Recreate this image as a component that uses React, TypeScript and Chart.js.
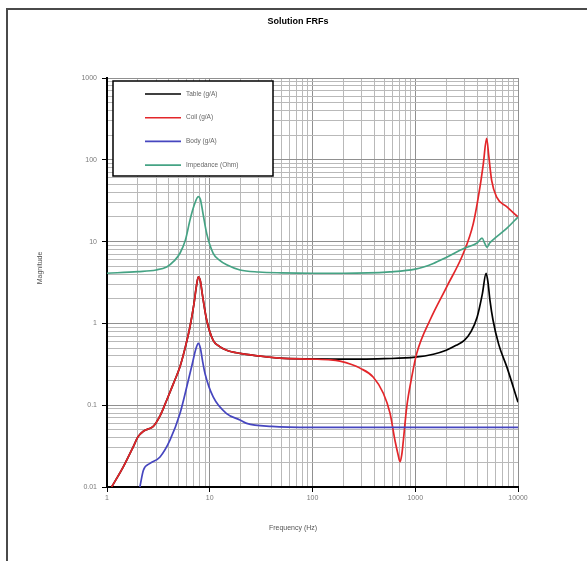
import React, { useEffect, useRef } from "react";
import { Chart, registerables } from "chart.js";

Chart.register(...registerables);

// ---- axis structure ----
const X_MAJOR = [1, 10, 100, 1000, 10000];
const X_LABELS = ["1", "10", "100", "1000", "10000"];
const Y_MAJOR = [0.01, 0.1, 1, 10, 100, 1000];
const Y_LABELS = ["0.01", "0.1", "1", "10", "100", "1000"];
const MINOR_STEPS = [2, 3, 4, 5, 6, 7, 8, 9];

const CHART_TITLE = "Solution FRFs";
const X_TITLE = "Frequency (Hz)";
const Y_TITLE = "Magnitude";
const SERIES_NAMES = ["Table (g/A)", "Coil (g/A)", "Body (g/A)", "Impedance (Ohm)"];
const SERIES_COLORS = ["#000000", "#e3262a", "#4646bf", "#45a384"];

// ---- series ----
const COIL_FREQ = [1.11, 1.44, 1.8, 2.0, 2.26, 2.5, 2.82, 3.3, 3.81, 4.4, 5.13, 5.8, 6.42, 7.0, 7.4, 7.74, 8.1, 8.5, 9.33, 10.8, 12.5, 14.6, 19.7, 30, 48, 100, 150, 185, 240, 290, 391, 489, 568, 635, 680, 711, 740, 766, 826, 924, 1034, 1393, 2024, 2940, 3675, 4270, 4600, 4950, 5200, 5540, 6200, 7760, 10000];
const COIL_VAL = [0.01, 0.0176, 0.031, 0.041, 0.048, 0.051, 0.055, 0.075, 0.115, 0.18, 0.295, 0.52, 0.91, 1.7, 2.8, 3.7, 3.3, 2.2, 1.1, 0.62, 0.52, 0.47, 0.43, 0.4, 0.376, 0.366, 0.358, 0.345, 0.315, 0.284, 0.22, 0.14, 0.08, 0.037, 0.025, 0.0203, 0.025, 0.037, 0.095, 0.22, 0.43, 1.1, 2.8, 7.2, 16.7, 46.9, 90, 183, 110, 56, 35, 26.7, 20];

const TABLE_FREQ = [1.11, 1.44, 1.8, 2.0, 2.26, 2.5, 2.82, 3.3, 3.81, 4.4, 5.13, 5.8, 6.42, 7.0, 7.4, 7.74, 8.1, 8.5, 9.33, 10.8, 12.5, 14.6, 19.7, 30, 48, 100, 185, 300, 500, 1000, 1500, 2000, 2500, 3000, 3500, 4000, 4500, 4890, 5100, 5340, 5710, 6500, 7810, 10000];
const TABLE_VAL = [0.01, 0.0176, 0.031, 0.041, 0.048, 0.051, 0.055, 0.075, 0.115, 0.18, 0.295, 0.52, 0.91, 1.7, 2.8, 3.7, 3.3, 2.2, 1.1, 0.62, 0.52, 0.47, 0.43, 0.4, 0.376, 0.368, 0.366, 0.365, 0.37, 0.386, 0.42, 0.47, 0.54, 0.62, 0.8, 1.19, 2.3, 4.1, 3.2, 1.9, 1.1, 0.55, 0.29, 0.109];

const BODY_FREQ = [2.09, 2.26, 2.62, 3.28, 4.1, 5.13, 6.18, 6.8, 7.3, 7.74, 8.1, 8.5, 8.99, 10.8, 14.6, 19.7, 22.9, 40, 100, 1000, 10000];
const BODY_VAL = [0.01, 0.016, 0.0194, 0.0233, 0.0374, 0.079, 0.2, 0.33, 0.48, 0.57, 0.5, 0.35, 0.244, 0.126, 0.079, 0.066, 0.06, 0.055, 0.0535, 0.0535, 0.0535];

const IMP_FREQ = [1, 2, 3, 3.81, 4.5, 5.13, 5.8, 6.42, 7.0, 7.74, 8.1, 8.6, 9.33, 10.8, 12.5, 14.6, 19.7, 30, 50, 100, 200, 568, 1000, 1500, 2000, 3000, 4000, 4470, 4750, 4990, 5300, 5710, 7810, 10000];
const IMP_VAL = [4.1, 4.3, 4.5, 4.9, 5.8, 7.2, 10.5, 18.3, 27, 35.5, 33, 22, 12.6, 7.2, 5.9, 5.2, 4.5, 4.25, 4.15, 4.1, 4.1, 4.27, 4.6, 5.4, 6.4, 8.3, 9.6, 11, 9.5, 8.5, 9.6, 10.5, 14.6, 20];

const isMajor = (v: number) => {
  const l = Math.log10(v);
  return Math.abs(l - Math.round(l)) < 1e-6;
};

const buildTicks = (majors: number[]) => {
  const out: number[] = [];
  majors.forEach((m, i) => {
    out.push(m);
    if (i < majors.length - 1) MINOR_STEPS.forEach((s) => out.push(+(m * s).toPrecision(6)));
  });
  return out;
};

const labelFor = (v: number, majors: number[], labels: string[]) => {
  for (let i = 0; i < majors.length; i++) {
    if (Math.abs(v - majors[i]) / majors[i] < 1e-6) return labels[i];
  }
  return "";
};

const toPoints = (fs: number[], vs: number[]) => fs.map((f, i) => ({ x: f, y: vs[i] }));

const overlay = {
  id: "overlay",
  afterDraw(chart: any) {
    const ctx = chart.ctx;
    const ca = chart.chartArea;
    ctx.save();
    // outer frame (top + left)
    ctx.strokeStyle = "#4a4a4a";
    ctx.lineWidth = 2;
    ctx.beginPath();
    ctx.moveTo(7, 561);
    ctx.lineTo(7, 9);
    ctx.lineTo(587, 9);
    ctx.stroke();

    // title
    ctx.fillStyle = "#000";
    ctx.font = 'bold 9px "Liberation Sans", Arial, sans-serif';
    ctx.textAlign = "center";
    ctx.textBaseline = "middle";
    ctx.fillText(CHART_TITLE, 298, 22);

    // axis titles
    ctx.fillStyle = "#555";
    ctx.font = '7px "Liberation Sans", Arial, sans-serif';
    ctx.fillText(X_TITLE, 293, 528);
    ctx.save();
    ctx.translate(40, 268);
    ctx.rotate(-Math.PI / 2);
    ctx.fillText(Y_TITLE, 0, 0);
    ctx.restore();

    // legend box
    const bx = ca.left + 6;
    const by = ca.top + 3;
    const bw = 160;
    const bh = 95;
    ctx.fillStyle = "#fff";
    ctx.fillRect(bx, by, bw, bh);
    ctx.strokeStyle = "#000";
    ctx.lineWidth = 1.5;
    ctx.strokeRect(bx, by, bw, bh);
    ctx.textAlign = "left";
    ctx.font = '6.5px "Liberation Sans", Arial, sans-serif';
    SERIES_NAMES.forEach((name, i) => {
      const yy = by + 13 + i * 23.7;
      ctx.strokeStyle = SERIES_COLORS[i];
      ctx.lineWidth = 1.6;
      ctx.beginPath();
      ctx.moveTo(bx + 32, yy);
      ctx.lineTo(bx + 68, yy);
      ctx.stroke();
      ctx.fillStyle = "#666";
      ctx.fillText(name, bx + 73, yy);
    });
    ctx.restore();
  },
};

export default function App() {
  const ref = useRef<HTMLCanvasElement | null>(null);

  useEffect(() => {
    if (!ref.current) return;
    const xTicks = buildTicks(X_MAJOR);
    const yTicks = buildTicks(Y_MAJOR);
    const gridColor = (c: any) => (c.tick && isMajor(c.tick.value) ? "#909090" : "#b9b9b9");
    const tickColor = (c: any) => (c.tick && isMajor(c.tick.value) ? "#000" : "rgba(0,0,0,0)");
    const tickFont = { family: '"Liberation Sans", Arial, sans-serif', size: 7 };

    const mk = (i: number, pts: any[], order: number) => ({
      label: SERIES_NAMES[i],
      data: pts,
      borderColor: SERIES_COLORS[i],
      backgroundColor: SERIES_COLORS[i],
      borderWidth: 1.7,
      pointRadius: 0,
      cubicInterpolationMode: "monotone" as const,
      order,
    });

    const chart = new Chart(ref.current, {
      type: "line",
      data: {
        datasets: [
          mk(0, toPoints(TABLE_FREQ, TABLE_VAL), 3),
          mk(1, toPoints(COIL_FREQ, COIL_VAL), 2),
          mk(2, toPoints(BODY_FREQ, BODY_VAL), 1),
          mk(3, toPoints(IMP_FREQ, IMP_VAL), 0),
        ],
      },
      options: {
        animation: false,
        responsive: false,
        layout: { padding: { left: 0, top: 78, right: 69, bottom: 0 } },
        plugins: { legend: { display: false }, title: { display: false }, tooltip: { enabled: false } },
        scales: {
          x: {
            type: "logarithmic",
            min: 1,
            max: 10000,
            afterBuildTicks: (s: any) => {
              s.ticks = xTicks.map((v) => ({ value: v, major: isMajor(v) }));
            },
            afterFit: (s: any) => {
              s.height = 74;
            },
            ticks: {
              autoSkip: false,
              maxRotation: 0,
              padding: 2,
              color: "#7a7a7a",
              font: tickFont,
              callback: (v: any) => labelFor(Number(v), X_MAJOR, X_LABELS),
            },
            grid: { color: gridColor, tickColor, tickLength: 5, lineWidth: 1 },
            border: { display: true, color: "#000", width: 2 },
          },
          y: {
            type: "logarithmic",
            min: 0.01,
            max: 1000,
            afterBuildTicks: (s: any) => {
              s.ticks = yTicks.map((v) => ({ value: v, major: isMajor(v) }));
            },
            afterFit: (s: any) => {
              s.width = 107;
            },
            ticks: {
              autoSkip: false,
              padding: 5,
              color: "#7a7a7a",
              font: tickFont,
              callback: (v: any) => labelFor(Number(v), Y_MAJOR, Y_LABELS),
            },
            grid: { color: gridColor, tickColor, tickLength: 5, lineWidth: 1 },
            border: { display: true, color: "#000", width: 2 },
          },
        },
      },
      plugins: [overlay],
    } as any);
    return () => chart.destroy();
  }, []);

  return (
    <div style={{ position: "fixed", left: 0, top: 0, width: 587, height: 561, background: "#fff" }}>
      <canvas ref={ref} width={587} height={561} style={{ display: "block", width: 587, height: 561 }} />
    </div>
  );
}
